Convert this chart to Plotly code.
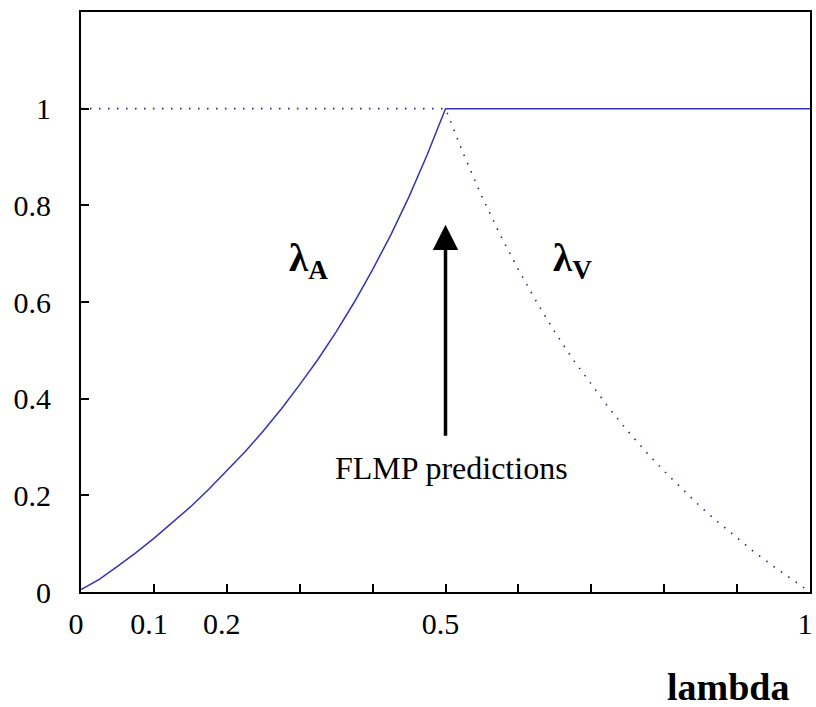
import plotly.graph_objects as go

# Data
lam_a_x = [0.0, 0.025, 0.05, 0.075, 0.1, 0.125, 0.15, 0.175, 0.2, 0.225, 0.25, 0.275,
           0.3, 0.325, 0.35, 0.375, 0.4, 0.425, 0.45, 0.475, 0.5, 1.0]
lam_a_y = [0.005, 0.026, 0.053, 0.081, 0.111, 0.143, 0.176, 0.212, 0.25, 0.29, 0.333, 0.379,
           0.429, 0.481, 0.538, 0.6, 0.667, 0.739, 0.818, 0.905, 1.0, 1.0]
lam_v_x = [0.0, 0.5, 0.525, 0.55, 0.575, 0.6, 0.625, 0.65, 0.675, 0.7, 0.725, 0.75,
           0.775, 0.8, 0.825, 0.85, 0.875, 0.9, 0.925, 0.95, 0.975, 1.0]
lam_v_y = [1.0, 1.0, 0.905, 0.818, 0.739, 0.667, 0.6, 0.538, 0.481, 0.429, 0.379, 0.333,
           0.29, 0.25, 0.212, 0.176, 0.143, 0.111, 0.081, 0.053, 0.026, 0.0]

x_tickvals = [0, 0.1, 0.2, 0.5, 1.0]
x_ticktext = ["0", "0.1", "0.2", "0.5", "1"]
x_minor_ticks = [0.3, 0.4, 0.6, 0.7, 0.8, 0.9]
y_tickvals = [0, 0.2, 0.4, 0.6, 0.8, 1.0]
y_ticktext = ["0", "0.2", "0.4", "0.6", "0.8", "1"]

FONT = "Liberation Serif, Times New Roman, serif"

fig = go.Figure()
fig.add_trace(go.Scatter(x=lam_v_x, y=lam_v_y, mode="lines",
                         line=dict(color="#24247e", width=1.6, dash="1.5px,7.5px"),
                         showlegend=False, hoverinfo="skip"))
fig.add_trace(go.Scatter(x=lam_a_x, y=lam_a_y, mode="lines",
                         line=dict(color="#3434b4", width=1.5),
                         showlegend=False, hoverinfo="skip"))

fig.add_annotation(x=0.5, y=0.76, ax=0.5, ay=0.32, xref="x", yref="y",
                   axref="x", ayref="y", showarrow=True, arrowhead=2,
                   arrowsize=1.45, arrowwidth=3.5, arrowcolor="black", text="")
fig.add_annotation(x=0.508, y=0.256, xref="x", yref="y", showarrow=False,
                   text="FLMP predictions", font=dict(family=FONT, size=32, color="black"))
fig.add_annotation(x=0.312, y=0.685, xref="x", yref="y", showarrow=False,
                   text="<b>λ<sub>A</sub></b>", font=dict(family=FONT, size=39, color="black"))
fig.add_annotation(x=0.674, y=0.685, xref="x", yref="y", showarrow=False,
                   text="<b>λ<sub>V</sub></b>", font=dict(family=FONT, size=39, color="black"))
fig.add_annotation(x=0.888, y=-0.164, xref="paper", yref="paper", showarrow=False,
                   xanchor="center", yanchor="middle",
                   text="<b>lambda</b>", font=dict(family=FONT, size=38, color="black"))

axis_common = dict(showline=True, linecolor="black", linewidth=2, mirror=True,
                   ticks="inside", ticklen=8, tickwidth=2, tickcolor="black",
                   showgrid=False, zeroline=False,
                   tickfont=dict(family=FONT, size=30, color="black"))
fig.update_xaxes(range=[0, 1.0], tickmode="array", tickvals=x_tickvals,
                 ticktext=x_ticktext, ticklabelstandoff=4, ticklabelshift=-5,
                 minor=dict(tickmode="array", tickvals=x_minor_ticks, ticks="inside",
                            ticklen=8, tickwidth=2, tickcolor="black", showgrid=False),
                 **axis_common)
fig.update_yaxes(range=[0, 1.2], tickmode="array", tickvals=y_tickvals,
                 ticktext=y_ticktext, ticklabelstandoff=22, **axis_common)

fig.update_layout(width=816, height=707, margin=dict(l=81, r=3, t=12, b=115),
                  plot_bgcolor="white", paper_bgcolor="white")
fig.write_html("out.html")
